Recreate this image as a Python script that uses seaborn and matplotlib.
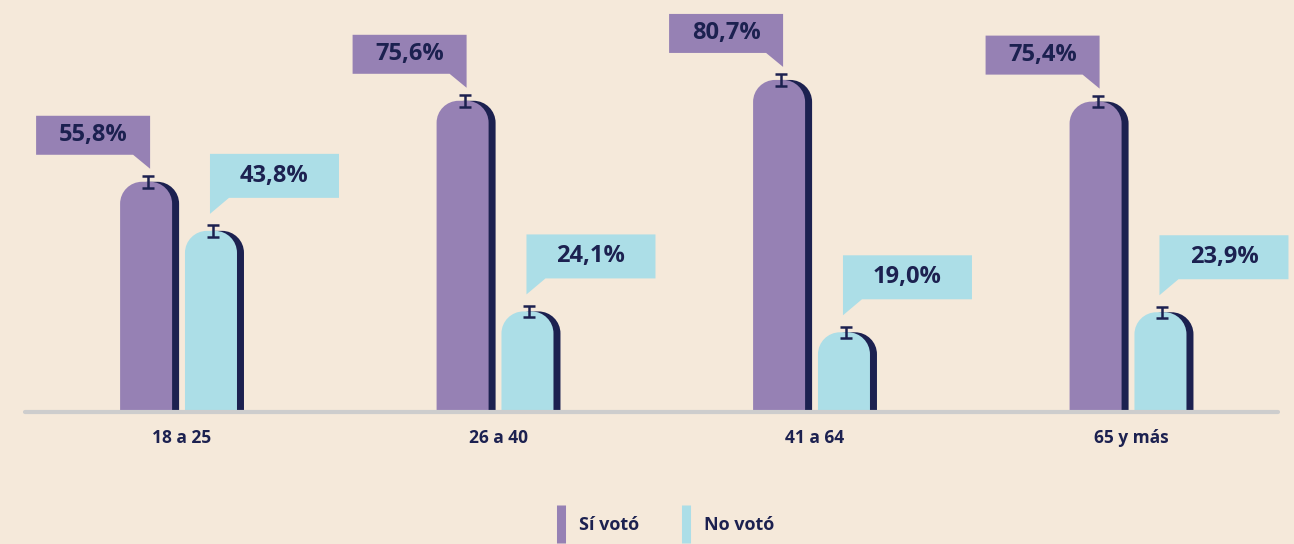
import numpy as np
import pandas as pd
import matplotlib
matplotlib.use('Agg')
from matplotlib import pyplot as plt
from matplotlib.path import Path
from matplotlib.patches import PathPatch, Polygon
from matplotlib.lines import Line2D
import seaborn as sns

edades = ['18 a 25', '26 a 40', '41 a 64', '65 y más']
grupos = ['Sí votó', 'No votó']
si_voto = [55.8, 75.6, 80.7, 75.4]
no_voto = [43.8, 24.1, 19.0, 23.9]
err_si = [1.4, 1.4, 1.4, 1.4]
err_no = [1.4, 1.4, 1.4, 1.4]

bg = '#f5e9da'
morado = '#9681b4'
celeste = '#acdee7'
navy = '#1c2150'

df = pd.DataFrame({'edad': edades * 2,
                   'pct': si_voto + no_voto,
                   'grupo': [grupos[0]] * 4 + [grupos[1]] * 4})

sns.set_theme(style='white')
plt.rcParams['font.family'] = ['Open Sans', 'DejaVu Sans']

W, H = 1294, 544
fig = plt.figure(figsize=(W / 100, H / 100), dpi=100, facecolor=bg)
ax_l, ax_r, ax_b, ax_t = 25, 1278, 134, 543
ax = fig.add_axes([ax_l / W, ax_b / H, (ax_r - ax_l) / W, (ax_t - ax_b) / H])
ax.set_facecolor(bg)

sns.barplot(data=df, x='edad', y='pct', hue='grupo', palette=[morado, celeste],
            width=0.41, errorbar=None, legend=False, ax=ax)
x0, x1 = -0.496, 3.463
ax.set_xlim(x0, x1)
ax.set_ylim(0, 100)
ppx = (ax_r - ax_l) / (x1 - x0)  # pixels per x unit
ppy = (ax_t - ax_b) / 100.0       # pixels per %


def pill(left, w, h, rx, ry):
    k = 0.5523
    verts = [(left, 0), (left, h - ry), (left, h - ry + k * ry), (left + rx - k * rx, h), (left + rx, h),
             (left + w - rx, h), (left + w - rx + k * rx, h), (left + w, h - ry + k * ry), (left + w, h - ry),
             (left + w, 0), (left, 0)]
    codes = [Path.MOVETO, Path.LINETO, Path.CURVE4, Path.CURVE4, Path.CURVE4,
             Path.LINETO, Path.CURVE4, Path.CURVE4, Path.CURVE4, Path.LINETO, Path.CLOSEPOLY]
    return Path(verts, codes)


bw = 52 / ppx
rx, ry = 22 / ppx, 22 / ppy
shift = 7 / ppx
errs = [err_si, err_no]
bar_groups = list(ax.containers)
for gi, cont in enumerate(bar_groups):
    color = [morado, celeste][gi]
    xs, ys = [], []
    for bar in cont:
        left = bar.get_x() + 3 / ppx
        h = bar.get_height()
        bar.set_visible(False)
        ax.add_patch(PathPatch(pill(left + shift, bw, h, rx, ry), fc=navy, ec='none', zorder=2))
        ax.add_patch(PathPatch(pill(left, bw, h, rx, ry), fc=color, ec='none', zorder=3))
        xs.append(left + bw / 2 + 2 / ppx)
        ys.append(h)
    ax.errorbar(xs, ys, yerr=errs[gi], fmt='none', ecolor=navy, elinewidth=1.8,
                capsize=4, capthick=1.8, zorder=4)

    # callouts
    for xe, h, val in zip(xs, ys, [si_voto, no_voto][gi]):
        top = h
        if gi == 0:
            bw_box, bh_box = 114 / ppx, 39 / ppy
            right = xe + 2 / ppx
            bottom = top + 27 / ppy
            tip = top + 13 / ppy
            box = [(right - bw_box, bottom), (right - 17 / ppx, bottom), (right, tip),
                   (right, bottom + bh_box), (right - bw_box, bottom + bh_box)]
            cx = right - bw_box / 2
        else:
            bw_box, bh_box = 129 / ppx, 44 / ppy
            left_b = xe - 3 / ppx
            bottom = top + 33 / ppy
            tip = top + 17 / ppy
            box = [(left_b, tip), (left_b + 19 / ppx, bottom), (left_b + bw_box, bottom),
                   (left_b + bw_box, bottom + bh_box), (left_b, bottom + bh_box)]
            cx = left_b + bw_box / 2
        ax.add_patch(Polygon(box, closed=True, fc=color, ec='none', clip_on=False, zorder=5))
        ax.text(cx, bottom + bh_box / 2, f'{val:.1f}%'.replace('.', ','), ha='center', va='center',
                fontsize=17, fontweight='bold', color=navy, zorder=6, clip_on=False)

ax.axhline(-0.5, color='#cdcdcd', lw=3, zorder=7, clip_on=False)

sns.despine(ax=ax, left=True, bottom=True)
ax.set_yticks([])
ax.set_xlabel('')
ax.set_ylabel('')
ax.tick_params(axis='x', length=0, pad=14)
for lab in ax.get_xticklabels():
    lab.set_fontweight('bold')
    lab.set_fontsize(12.5)
    lab.set_color(navy)

handles = [Line2D([], [], color=c, marker='|', linestyle='none', markersize=28, markeredgewidth=6.5)
           for c in [morado, celeste]]
leg = fig.legend(handles, grupos, loc='center', bbox_to_anchor=(0.513, 0.035), ncol=2, frameon=False,
                 handlelength=0.8, handletextpad=0.6, columnspacing=2.2,
                 prop={'weight': 'bold', 'size': 13})
for t in leg.get_texts():
    t.set_color(navy)

fig.savefig('out.png', dpi=100, facecolor=bg)
